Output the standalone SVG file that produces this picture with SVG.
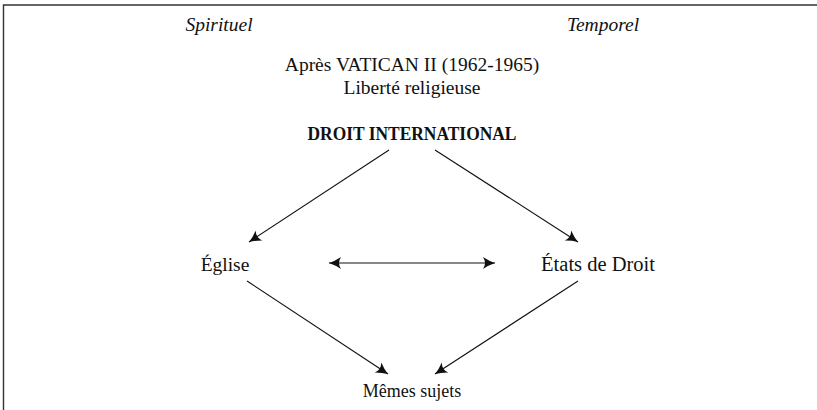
<svg xmlns="http://www.w3.org/2000/svg" width="817" height="410" viewBox="0 0 817 410">
  <style>
    text { font-family: "Liberation Serif", "DejaVu Serif", serif; fill: #111; text-anchor: middle; }
    .head { font-style: italic; font-size: 19.5px; }
    .lbl { font-size: 19.5px; }
    .wide { font-size: 20.5px; }
    .title { font-size: 19.5px; font-weight: bold; }
    .small { font-size: 18px; }
    .edge { stroke: #111; stroke-width: 1.1; fill: none; }
    .frame { stroke: #333; stroke-width: 1.4; fill: none; }
  </style>
  <defs>
    <marker id="arrow" viewBox="-13 -7 14 14" refX="0" refY="0" markerWidth="14" markerHeight="14" markerUnits="userSpaceOnUse" orient="auto-start-reverse">
      <path d="M0,0 Q-6,-2 -12,-6 Q-8,0 -12,6 Q-6,2 0,0 Z" fill="#111"/>
    </marker>
  </defs>

  <!-- page frame: top rule and left rule -->
  <path class="frame" d="M3.5,410 V5 H817"/>

  <!-- column headings -->
  <text class="head" x="219" y="31">Spirituel</text>
  <text class="head" x="603" y="31">Temporel</text>

  <g id="context">
    <text class="lbl" x="412" y="71">Après VATICAN II (1962-1965)</text>
    <text class="lbl" x="412" y="94">Liberté religieuse</text>
  </g>

  <g id="droit-international">
    <text class="title" x="412" y="140" textLength="209" lengthAdjust="spacingAndGlyphs">DROIT INTERNATIONAL</text>
  </g>

  <g id="eglise">
    <text class="lbl" x="225" y="271">Église</text>
  </g>

  <g id="etats-de-droit">
    <text class="wide" x="598" y="271">États de Droit</text>
  </g>

  <g id="memes-sujets">
    <text class="small" x="412" y="397">Mêmes sujets</text>
  </g>

  <g id="connectors">
    <line class="edge" x1="389" y1="150" x2="249" y2="242" marker-end="url(#arrow)"/>
    <line class="edge" x1="435" y1="150" x2="578" y2="242" marker-end="url(#arrow)"/>
    <line class="edge" x1="329" y1="263" x2="495" y2="263" marker-start="url(#arrow)" marker-end="url(#arrow)"/>
    <line class="edge" x1="247" y1="281" x2="388" y2="374" marker-end="url(#arrow)"/>
    <line class="edge" x1="578" y1="281" x2="435" y2="374" marker-end="url(#arrow)"/>
  </g>
</svg>
